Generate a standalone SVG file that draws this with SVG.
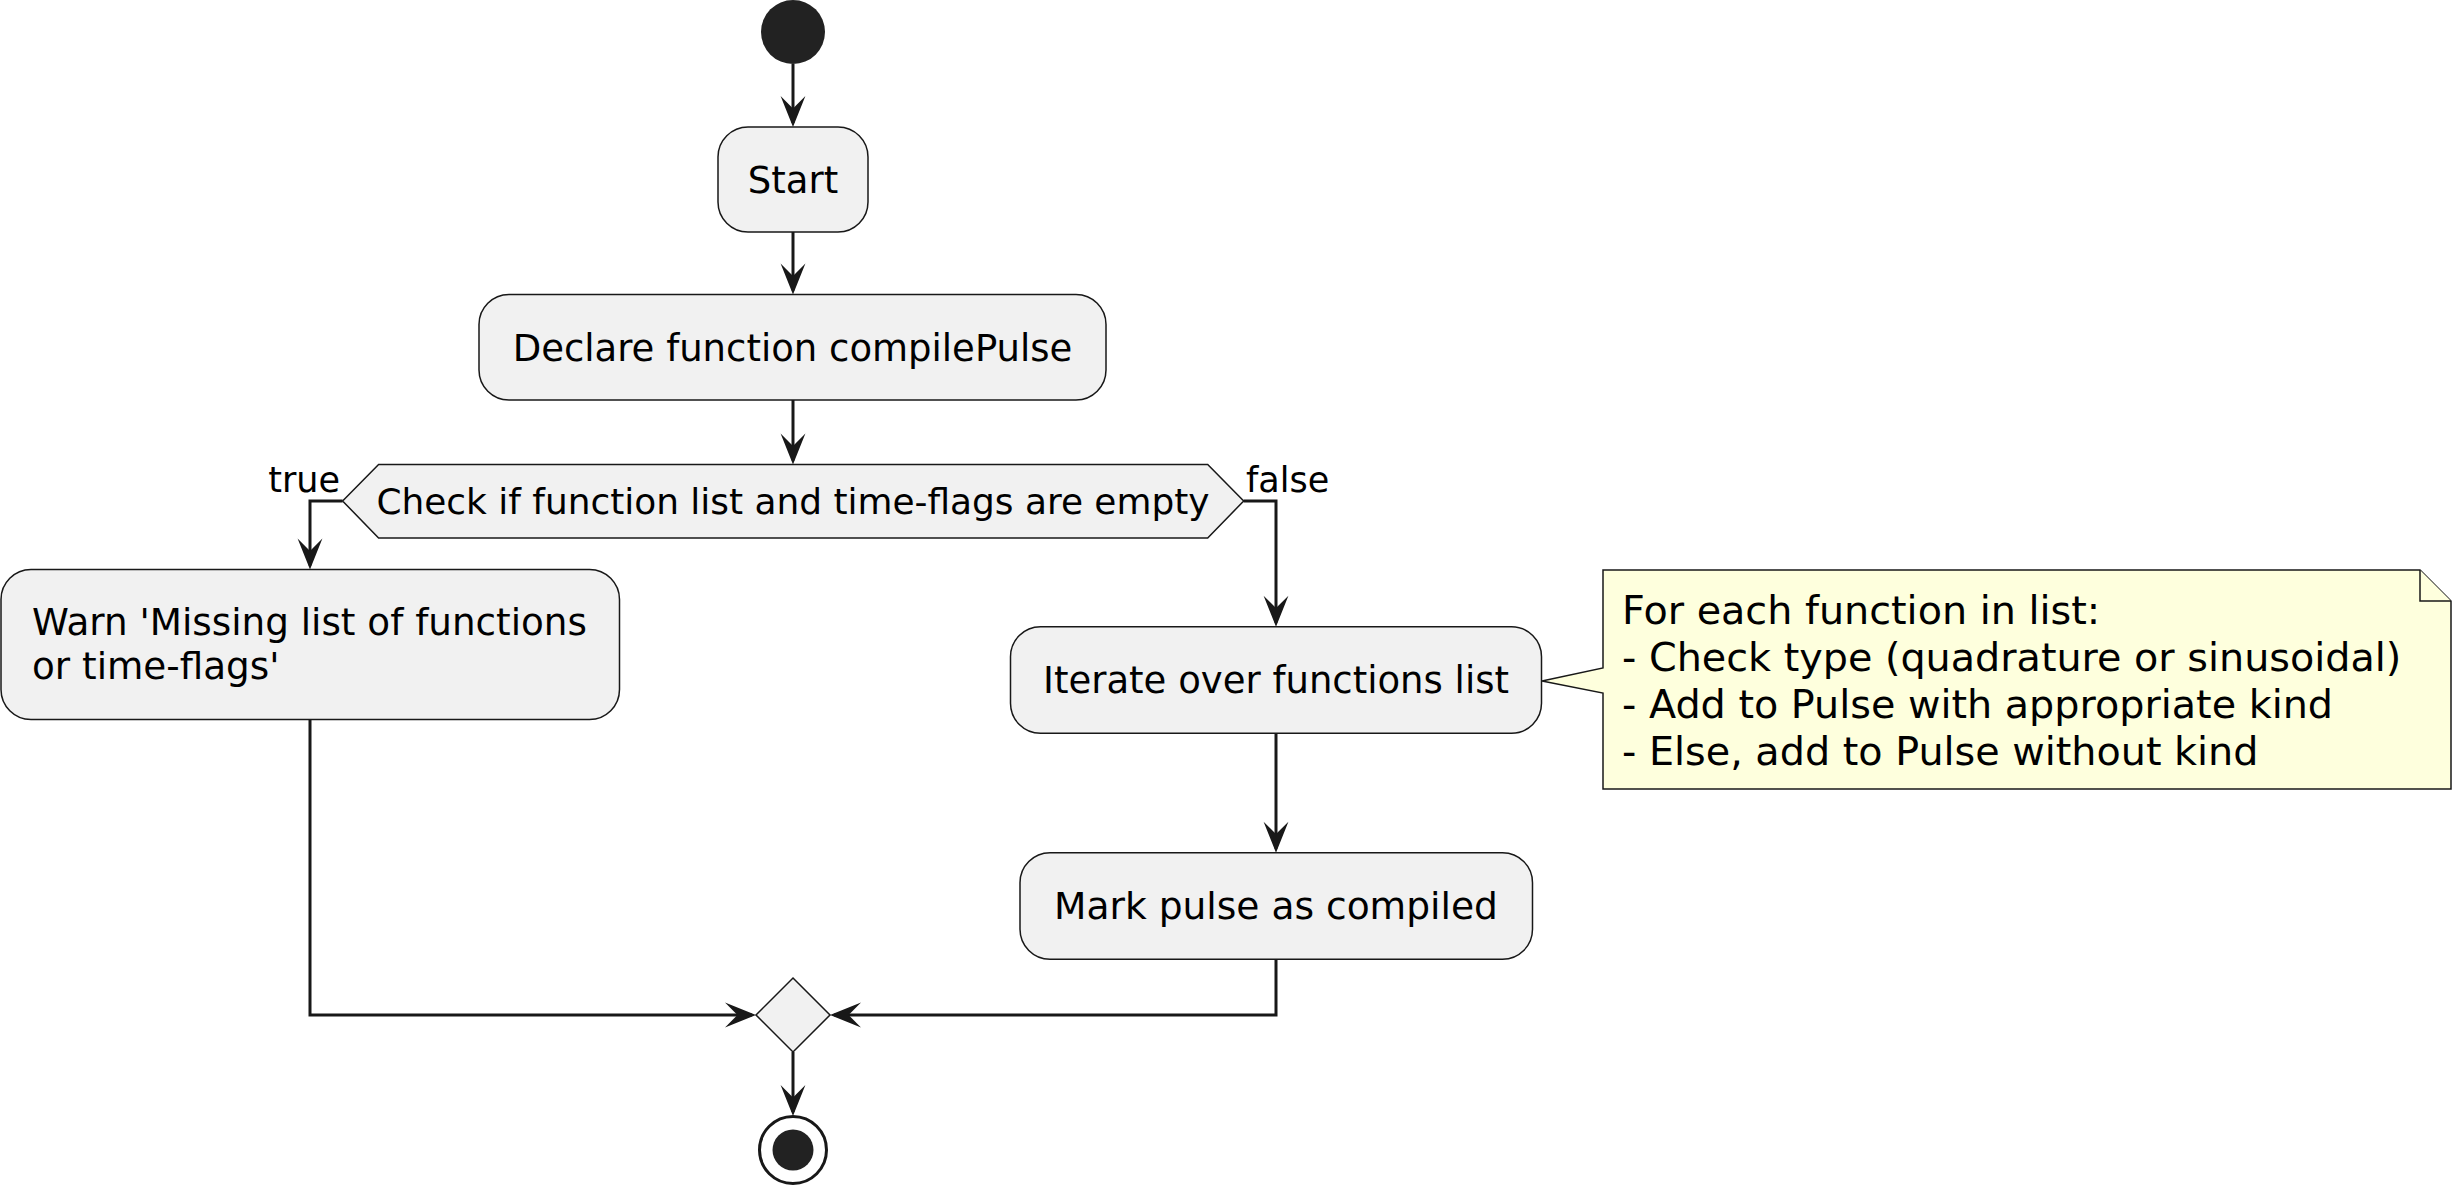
<svg xmlns="http://www.w3.org/2000/svg" width="2453" height="1186" viewBox="0 0 2453 1186">
<defs>
<style>
.act{fill:#F1F1F1;stroke:#181818;stroke-width:1.5}
.t{font-family:"DejaVu Sans",sans-serif;font-size:37px;fill:#000}
.tc{text-anchor:middle}
.ht{font-family:"DejaVu Sans",sans-serif;font-size:35.9px;fill:#000}
.lbl{font-family:"DejaVu Sans",sans-serif;font-size:35px;fill:#000}
.nt{font-family:"DejaVu Sans",sans-serif;font-size:39.7px;fill:#000}
.note{fill:#FEFFDD;stroke:#181818;stroke-width:1.5}
.edge{fill:none;stroke:#181818;stroke-width:3;marker-end:url(#ah)}
</style>
<marker id="ah" markerUnits="userSpaceOnUse" orient="auto" refX="0" refY="0" overflow="visible" markerWidth="40" markerHeight="30">
<path d="M4,0 L-27,-12.4 L-14.6,0 L-27,12.4 Z" fill="#181818"/>
</marker>
</defs>
<rect width="2453" height="1186" fill="#FFFFFF"/>
<g id="connectors">
<path class="edge" d="M793,64 L793,123"/>
<path class="edge" d="M793,232 L793,290.5"/>
<path class="edge" d="M793,400 L793,460.5"/>
<path class="edge" d="M342.6,501 L310,501 L310,565.5"/>
<path class="edge" d="M1243.7,501 L1276,501 L1276,622.7"/>
<path class="edge" d="M1276,733.3 L1276,848.7"/>
<path class="edge" d="M310,719.6 L310,1015 L752,1015"/>
<path class="edge" d="M1276,959.3 L1276,1015 L834,1015"/>
<path class="edge" d="M793,1052 L793,1112"/>
</g>
<g id="start-node">
<circle cx="793" cy="32" r="32" fill="#222222"/>
</g>
<g id="start-activity">
<rect class="act" x="718" y="127" width="150" height="105" rx="30" ry="30"/>
<text class="t tc" x="793" y="192.7">Start</text>
</g>
<g id="declare">
<rect class="act" x="479" y="294.5" width="627" height="105.5" rx="30" ry="30"/>
<text class="t tc" x="792.5" y="360.5">Declare function compilePulse</text>
</g>
<g id="check">
<polygon class="act" points="342.6,501 378.6,464.5 1207.7,464.5 1243.7,501 1207.7,538 378.6,538"/>
<text class="ht tc" x="793" y="514">Check if function list and time-flags are empty</text>
<text class="lbl" x="340" y="492.3" text-anchor="end">true</text>
<text class="lbl" x="1246" y="492.3">false</text>
</g>
<g id="warn">
<rect class="act" x="1" y="569.4" width="618.5" height="150.2" rx="30" ry="30"/>
<text class="t" x="32" y="635" style="font-size:37.3px">Warn 'Missing list of functions</text>
<text class="t" x="32" y="678.8" style="font-size:37.3px">or time-flags'</text>
</g>
<g id="iterate">
<rect class="act" x="1010.5" y="626.7" width="531" height="106.6" rx="30" ry="30"/>
<text class="t tc" x="1276" y="693.3">Iterate over functions list</text>
</g>
<g id="note">
<path class="note" d="M1603,570 L2420,570 L2451,601 L2451,789 L1603,789 L1603,693 L1542,681 L1603,668 Z"/>
<path class="note" d="M2420,570 L2420,601 L2451,601"/>
<text class="nt" x="1622" y="624">For each function in list:</text>
<text class="nt" x="1622" y="671">- Check type (quadrature or sinusoidal)</text>
<text class="nt" x="1622" y="718">- Add to Pulse with appropriate kind</text>
<text class="nt" x="1622" y="765">- Else, add to Pulse without kind</text>
</g>
<g id="mark">
<rect class="act" x="1020" y="852.7" width="512.5" height="106.6" rx="30" ry="30"/>
<text class="t tc" x="1276" y="919.3" style="font-size:37.6px">Mark pulse as compiled</text>
</g>
<g id="merge">
<polygon class="act" points="793,978 830,1015 793,1052 756,1015"/>
</g>
<g id="end-node">
<circle cx="793" cy="1150" r="33.5" fill="none" stroke="#181818" stroke-width="3"/>
<circle cx="793" cy="1150" r="20.5" fill="#222222"/>
</g>
</svg>
